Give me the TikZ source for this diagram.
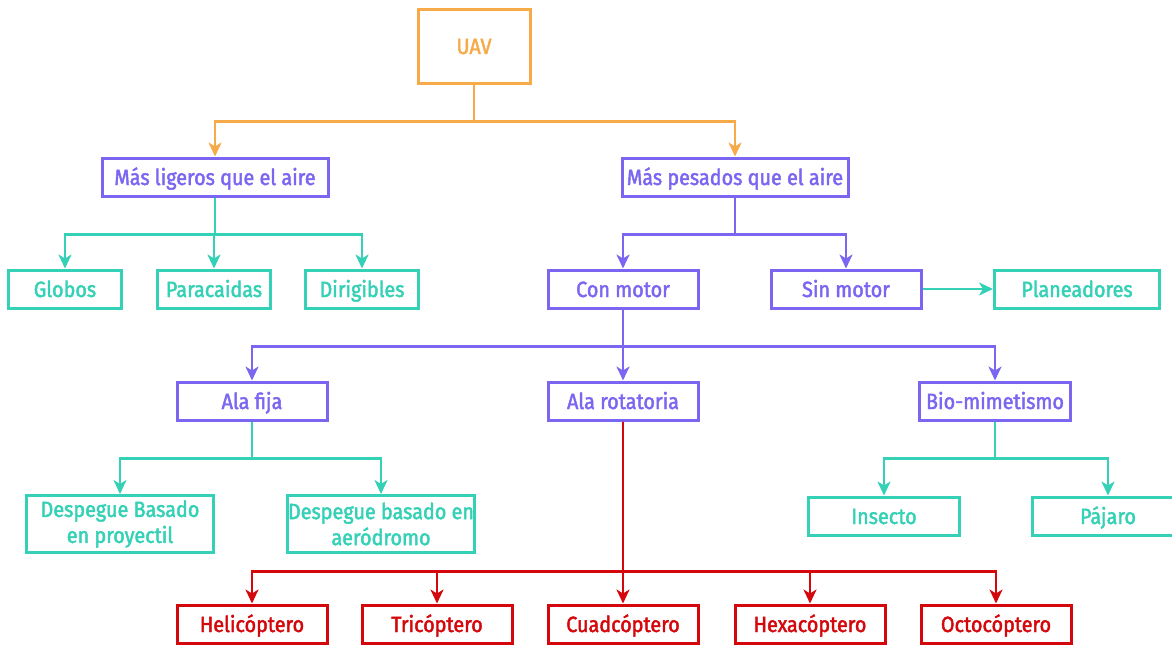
\documentclass[tikz,border=0pt]{standalone}
\usepackage{fontspec}
\setmainfont{Fira Sans}[FakeStretch=0.9,FakeBold=2]
\usetikzlibrary{arrows.meta}

\definecolor{uavorange}{HTML}{F7AA48}
\definecolor{uavpurple}{HTML}{7B66F2}
\definecolor{uavteal}{HTML}{34D1B6}
\definecolor{uavred}{HTML}{D4080C}

\begin{document}
\begin{tikzpicture}[x=1pt,y=-1pt,>={Stealth[length=14pt,width=13pt,inset=4pt]},
		box/.style={draw,rectangle,line width=3pt,fill=white,inner sep=0pt,
			minimum height=38pt,text height=16pt,text depth=0pt,
			font=\fontsize{22}{26}\selectfont,align=center},
		twoline/.style={text height={},text depth={},minimum height=57pt},
		orangebox/.style={box,draw=uavorange,text=uavorange},
		purplebox/.style={box,draw=uavpurple,text=uavpurple},
		tealbox/.style={box,draw=uavteal,text=uavteal},
		redbox/.style={box,draw=uavred,text=uavred},
		orangeline/.style={->,draw=uavorange,line width=2.8pt},
		purpleline/.style={->,draw=uavpurple,line width=2.8pt},
		tealline/.style={->,draw=uavteal,line width=2.8pt},
		redline/.style={->,draw=uavred,line width=2.8pt}]
		
		\useasboundingbox (0,0) rectangle (1172,645);
		
		% top level
		\node[orangebox,minimum width=112pt,minimum height=74pt] (uav) at (474,46) {UAV};
		\node[purplebox,minimum width=226pt] (ligeros) at (215,177) {Más ligeros que el aire};
		\node[purplebox,minimum width=226pt] (pesados) at (735,177) {Más pesados que el aire};
		
		% mas ligeros
		\node[tealbox,minimum width=113pt] (globos)     at (65,289)  {Globos};
		\node[tealbox,minimum width=113pt] (paracaidas) at (214,289) {Paracaidas};
		\node[tealbox,minimum width=113pt] (dirigibles) at (362,289) {Dirigibles};
		
		% mas pesados
		\node[purplebox,minimum width=150pt] (conmotor)    at (623,289)  {Con motor};
		\node[purplebox,minimum width=150pt] (sinmotor)    at (846,289)  {Sin motor};
		\node[tealbox,minimum width=165pt]   (planeadores) at (1077,289) {Planeadores};
		
		% con motor
		\node[purplebox,minimum width=150pt] (alafija) at (252,401) {Ala fija};
		\node[purplebox,minimum width=150pt] (alarot)  at (623,401) {Ala rotatoria};
		\node[purplebox,minimum width=151pt] (bio)     at (995,401) {Bio-mimetismo};
		
		\node[tealbox,twoline,minimum width=187pt] (proyectil) at (120,524) {Despegue Basado\\en proyectil};
		\node[tealbox,twoline,minimum width=187pt] (aerodromo) at (381,524) {Despegue basado en\\aeródromo};
		\node[tealbox,minimum width=151pt] (insecto) at (884,516)  {Insecto};
		\node[tealbox,minimum width=151pt] (pajaro)  at (1108,516) {Pájaro};
		
		% ala rotatoria
		\node[redbox,minimum width=150pt] (heli)  at (252,624) {Helicóptero};
		\node[redbox,minimum width=150pt] (tri)   at (437,624) {Tricóptero};
		\node[redbox,minimum width=150pt] (cuad)  at (623,624) {Cuadcóptero};
		\node[redbox,minimum width=150pt] (hexa)  at (810,624) {Hexacóptero};
		\node[redbox,minimum width=150pt] (octo)  at (996,624) {Octocóptero};
		
		% connectors
		\foreach \t in {ligeros,pesados}
		\draw[orangeline] (uav.south) -- ++(0,37) -| (\t.north);
		\foreach \t in {globos,paracaidas,dirigibles}
		\draw[tealline] (ligeros.south) -- ++(0,37) -| (\t.north);
		\foreach \t in {conmotor,sinmotor}
		\draw[purpleline] (pesados.south) -- ++(0,37) -| (\t.north);
		\draw[tealline] (sinmotor.east) -- (planeadores.west);
		\foreach \t in {alafija,alarot,bio}
		\draw[purpleline] (conmotor.south) -- ++(0,37) -| (\t.north);
		\foreach \t in {proyectil,aerodromo}
		\draw[tealline] (alafija.south) -- ++(0,37) -| (\t.north);
		\foreach \t in {insecto,pajaro}
		\draw[tealline] (bio.south) -- ++(0,37) -| (\t.north);
		\foreach \t in {heli,tri,cuad,hexa,octo}
		\draw[redline] (alarot.south) -- ++(0,150) -| (\t.north);
	\end{tikzpicture}
\end{document}
